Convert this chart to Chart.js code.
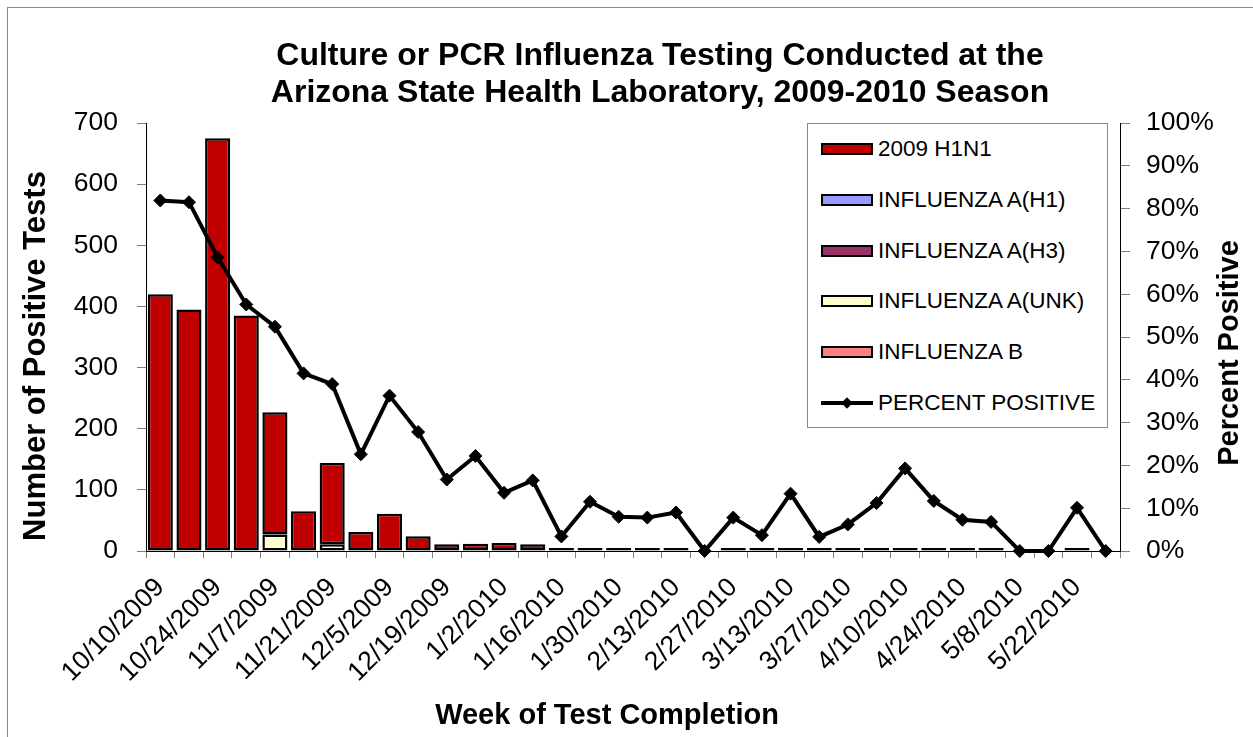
<!DOCTYPE html>
<html>
<head>
<meta charset="utf-8">
<title>Influenza testing, Arizona State Health Laboratory 2009-2010</title>
<script src="https://cdn.jsdelivr.net/npm/chart.js@4.4.1/dist/chart.umd.min.js"></script>
<style>
  html, body { margin: 0; padding: 0; background: #fff; }
  #wrap { position: relative; width: 1253px; height: 737px; overflow: hidden; }
  #frame { position: absolute; left: 7px; top: 7px; width: 1400px; height: 900px;
           border-left: 1px solid #8a8a8a; border-top: 1px solid #8a8a8a; }
  #chart { position: absolute; left: 0; top: 0; }
  #legend { position: absolute; left: 807px; top: 123px; width: 299px; height: 303px;
            border: 1px solid #8a8a8a; background: #fff;
            font: 22.5px 'Liberation Sans', Arial, sans-serif; color: #000; }
  .item { height: 50.7px; display: flex; align-items: center; white-space: nowrap; }
  .swatch { width: 48px; height: 8px; border: 2px solid #000; margin-left: 13px; margin-right: 5px; }
  .lineSym { position: relative; width: 52px; height: 4px; background: #000; margin-left: 13px; margin-right: 5px; }
  .lineSym::after { content: ''; position: absolute; left: 22px; top: -2px; width: 8px; height: 8px;
                    background: #000; transform: rotate(45deg); }
</style>
</head>
<body>
<div id="wrap">
  <div id="frame"></div>
  <canvas id="chart" width="1253" height="737"></canvas>
  <div id="legend"></div>
</div>
<script>
const titleLines = ['Culture or PCR Influenza Testing Conducted at the',
                    'Arizona State Health Laboratory, 2009-2010 Season'];
const xTitle = 'Week of Test Completion';
const yTitle = 'Number of Positive Tests';
const y1Title = 'Percent Positive';

const weeks = ['10/10/2009', '10/17/2009', '10/24/2009', '10/31/2009', '11/7/2009', '11/14/2009',
  '11/21/2009', '11/28/2009', '12/5/2009', '12/12/2009', '12/19/2009', '12/26/2009',
  '1/2/2010', '1/9/2010', '1/16/2010', '1/23/2010', '1/30/2010', '2/6/2010', '2/13/2010',
  '2/20/2010', '2/27/2010', '3/6/2010', '3/13/2010', '3/20/2010', '3/27/2010', '4/3/2010',
  '4/10/2010', '4/17/2010', '4/24/2010', '5/1/2010', '5/8/2010', '5/15/2010', '5/22/2010',
  '5/29/2010'];

// positive tests per week
const h1n1   = [420, 395, 675, 385, 200, 65, 133, 31, 61, 24, 11, 12, 13, 11, 1, 2, 2,
                1, 2, 0, 1, 1, 2, 1, 1, 1, 3, 2, 1, 1, 0, 0, 1, 0];
const fluAH1 = [0, 0, 0, 0, 0, 0, 0, 0, 0, 0, 0, 0, 0, 0, 0, 0, 0,
                0, 0, 0, 0, 0, 0, 0, 0, 0, 0, 0, 0, 0, 0, 0, 0, 0];
const fluAH3 = [0, 0, 0, 0, 0, 0, 0, 0, 0, 0, 0, 0, 0, 0, 0, 0, 0,
                0, 0, 0, 0, 0, 0, 0, 0, 0, 0, 0, 0, 0, 0, 0, 0, 0];
const fluAUnk = [0, 0, 0, 0, 27, 0, 11, 0, 0, 0, 0, 0, 0, 0, 0, 0, 0,
                 0, 0, 0, 0, 0, 0, 0, 0, 0, 0, 0, 0, 0, 0, 0, 0, 0];
const fluB   = [0, 0, 0, 0, 0, 0, 0, 0, 0, 0, 0, 0, 0, 0, 0, 0, 0,
                0, 0, 0, 0, 0, 0, 0, 0, 0, 0, 0, 0, 0, 0, 0, 0, 0];
// percent of tests positive
const percentPos = [81.9, 81.5, 68.6, 57.6, 52.4, 41.5, 39.0, 22.6, 36.3, 27.8, 16.7, 22.2,
                    13.6, 16.5, 3.4, 11.5, 8.0, 7.8, 9.0, 0, 7.8, 3.7, 13.4, 3.3, 6.2, 11.2,
                    19.3, 11.7, 7.3, 6.8, 0, 0, 10.1, 0];

const yTicks = [0, 100, 200, 300, 400, 500, 600, 700];
const y1Ticks = [0, 10, 20, 30, 40, 50, 60, 70, 80, 90, 100];

Chart.defaults.font.family = "'Liberation Sans', Arial, sans-serif";
Chart.defaults.color = '#000';

const bar = (label, values, color) => ({
  type: 'bar', label, data: values.map(v => v || null),
  backgroundColor: color, borderColor: '#000', borderWidth: 2.5, borderSkipped: false,
  minBarLength: 3, stack: 'pos', order: 1,
  barPercentage: 0.875, categoryPercentage: 1.0
});

// texts drawn on the canvas itself
const textPlugin = {
  id: 'texts',
  afterDraw(chart) {
    const ctx = chart.ctx;
    ctx.save();
    ctx.fillStyle = '#000';
    ctx.textAlign = 'center';
    ctx.textBaseline = 'middle';
    ctx.font = "bold 32px 'Liberation Sans', Arial, sans-serif";
    ctx.fillText(titleLines[0], 660, 56);
    ctx.fillText(titleLines[1], 660, 93);
    ctx.font = "bold 29px 'Liberation Sans', Arial, sans-serif";
    ctx.fillText(xTitle, 607, 716);
    ctx.font = "bold 31px 'Liberation Sans', Arial, sans-serif";
    ctx.translate(36, 356);
    ctx.rotate(-Math.PI / 2);
    ctx.fillText(yTitle, 0, 0);
    ctx.restore();
    ctx.save();
    ctx.fillStyle = '#000';
    ctx.textAlign = 'center';
    ctx.textBaseline = 'middle';
    ctx.font = "bold 29px 'Liberation Sans', Arial, sans-serif";
    ctx.translate(1230, 353);
    ctx.rotate(-Math.PI / 2);
    ctx.fillText(y1Title, 0, 0);
    ctx.restore();
  }
};

const ctx = document.getElementById('chart').getContext('2d');
const chart = new Chart(ctx, {
  type: 'bar',
  data: {
    labels: weeks,
    datasets: [
      bar('INFLUENZA B', fluB, '#FF8080'),
      bar('INFLUENZA A(UNK)', fluAUnk, '#FFFFCC'),
      bar('INFLUENZA A(H3)', fluAH3, '#993366'),
      bar('INFLUENZA A(H1)', fluAH1, '#9999FF'),
      bar('2009 H1N1', h1n1, '#C00000'),
      {
        type: 'line', label: 'PERCENT POSITIVE', data: percentPos, yAxisID: 'y1', order: 0,
        borderColor: '#000', borderWidth: 4, tension: 0, clip: false,
        pointStyle: 'rectRot', pointRadius: 6.5, pointBackgroundColor: '#000',
        pointBorderColor: '#000', pointBorderWidth: 1
      }
    ]
  },
  options: {
    responsive: false,
    animation: false,
    layout: { padding: { top: 123, left: 0, right: 0, bottom: 0 } },
    plugins: { legend: { display: false }, title: { display: false }, tooltip: { enabled: false } },
    scales: {
      x: {
        stacked: true,
        offset: true,
        grid: { display: true, drawOnChartArea: false, drawTicks: true, tickLength: 7, color: '#808080', offset: true },
        border: { display: true, color: '#000', width: 1 },
        ticks: {
          autoSkip: false, maxRotation: 45, minRotation: 45, padding: 14,
          font: { size: 26.5 }, color: '#000',
          callback: (v, i) => (i % 2 === 0 ? weeks[i] : '')
        },
        afterFit: s => { s.height = 186; }
      },
      y: {
        position: 'left', stacked: true, min: yTicks[0], max: yTicks[yTicks.length - 1],
        afterBuildTicks: s => { s.ticks = yTicks.map(value => ({ value })); },
        grid: { display: true, drawOnChartArea: false, tickLength: 9, color: '#808080' },
        border: { display: true, color: '#000', width: 1 },
        ticks: { padding: 19, font: { size: 26.5 }, color: '#000' },
        afterFit: s => { s.width = 146; }
      },
      y1: {
        position: 'right', min: y1Ticks[0], max: y1Ticks[y1Ticks.length - 1],
        afterBuildTicks: s => { s.ticks = y1Ticks.map(value => ({ value })); },
        grid: { display: true, drawOnChartArea: false, tickLength: 10, color: '#808080' },
        border: { display: true, color: '#000', width: 1 },
        ticks: { padding: 16, font: { size: 26.5 }, color: '#000', callback: v => v + '%' },
        afterFit: s => { s.width = 133; }
      }
    }
  },
  plugins: [textPlugin]
});

// legend: bar series top-down as stacked, then the line
const legend = document.getElementById('legend');
const sets = chart.data.datasets;
const barSets = sets.filter(d => d.type === 'bar').reverse();
const lineSets = sets.filter(d => d.type === 'line');
barSets.concat(lineSets).forEach(d => {
  const row = document.createElement('div');
  row.className = 'item';
  const sym = document.createElement('div');
  if (d.type === 'bar') {
    sym.className = 'swatch';
    sym.style.background = d.backgroundColor;
  } else {
    sym.className = 'lineSym';
  }
  const txt = document.createElement('span');
  txt.textContent = d.label;
  row.appendChild(sym);
  row.appendChild(txt);
  legend.appendChild(row);
});
</script>
</body>
</html>
